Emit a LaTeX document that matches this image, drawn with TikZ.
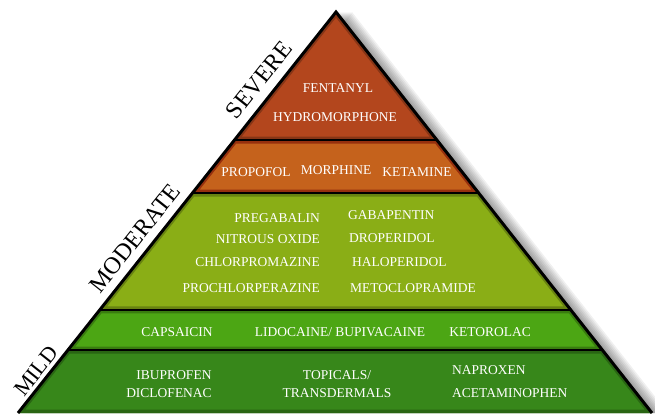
\documentclass[tikz,border=0pt]{standalone}
\usepackage{fontspec}
\setmainfont{Liberation Serif}
\usetikzlibrary{calc}
\definecolor{severecol}{HTML}{B3461D}
\definecolor{opioidcol}{HTML}{C5621C}
\definecolor{moderatecol}{HTML}{8AAE16}
\definecolor{localcol}{HTML}{4CA614}
\definecolor{mildcol}{HTML}{37871A}

\begin{document}
\begin{tikzpicture}[x=1pt,y=-1pt,
    drug/.style={text=white,inner sep=0pt,font=\fontsize{13.5}{14}\selectfont},
    level/.style={black,inner sep=0pt,rotate=51.6,font=\fontsize{24}{24}\selectfont}]
    \useasboundingbox (0,0) rectangle (655,413);
    \coordinate (top) at (336,12);
    \coordinate (bl) at (18,413);
    \coordinate (br) at (652,413);
    % layer corners along the two sides
    \coordinate (l1) at ($(top)!0.3192!(bl)$);
    \coordinate (r1) at ($(top)!0.3192!(br)$);
    \coordinate (l2) at ($(top)!0.4514!(bl)$);
    \coordinate (r2) at ($(top)!0.4514!(br)$);
    \coordinate (l3) at ($(top)!0.7431!(bl)$);
    \coordinate (r3) at ($(top)!0.7431!(br)$);
    \coordinate (l4) at ($(top)!0.8429!(bl)$);
    \coordinate (r4) at ($(top)!0.8429!(br)$);
    % soft shadow on the right
    \foreach \s in {2,4,...,16}
        \fill[black,opacity=0.06] ([xshift=\s]top) -- ([xshift=\s]br) -- ([xshift=\s]bl) -- cycle;
    % layers
    \begin{scope}
        \clip (top) -- (r1) -- (l1) -- cycle;
        \fill[severecol] (top) -- (r1) -- (l1) -- cycle;
        \draw[severecol!75!black,line width=7pt] (top) -- (r1) -- (l1) -- cycle;
    \end{scope}
    \begin{scope}
        \clip (l1) -- (r1) -- (r2) -- (l2) -- cycle;
        \fill[opioidcol] (l1) -- (r1) -- (r2) -- (l2) -- cycle;
        \draw[opioidcol!70!red!70!black,line width=7pt] (l1) -- (r1) -- (r2) -- (l2) -- cycle;
    \end{scope}
    \begin{scope}
        \clip (l2) -- (r2) -- (r3) -- (l3) -- cycle;
        \fill[moderatecol] (l2) -- (r2) -- (r3) -- (l3) -- cycle;
        \draw[moderatecol!75!black,line width=7pt] (l2) -- (r2) -- (r3) -- (l3) -- cycle;
    \end{scope}
    \begin{scope}
        \clip (l3) -- (r3) -- (r4) -- (l4) -- cycle;
        \fill[localcol] (l3) -- (r3) -- (r4) -- (l4) -- cycle;
        \draw[localcol!75!black,line width=7pt] (l3) -- (r3) -- (r4) -- (l4) -- cycle;
    \end{scope}
    \begin{scope}
        \clip (l4) -- (r4) -- (br) -- (bl) -- cycle;
        \fill[mildcol] (l4) -- (r4) -- (br) -- (bl) -- cycle;
        \draw[mildcol!75!black,line width=7pt] (l4) -- (r4) -- (br) -- (bl) -- cycle;
    \end{scope}
    % outline and dividers
    \draw[line width=3pt] (bl) -- (top) -- (br);
    \draw[line width=2.5pt] (l1) -- (r1);
    \draw[line width=2.5pt] (l2) -- (r2);
    \draw[line width=2.5pt] (l3) -- (r3);
    \draw[line width=2.5pt] (l4) -- (r4);
    % levels
    \node[level] (severe) at (259,80) {SEVERE};
    \node[level] (moderate) at (135,238) {MODERATE};
    \node[level,font=\fontsize{22}{22}\selectfont] (mild) at (36,371) {MILD};
    % drugs
    \node[drug] (fentanyl) at (338,88) {FENTANYL};
    \node[drug] (hydromorphone) at (335,117) {HYDROMORPHONE};
    \node[drug] (propofol) at (256,172) {PROPOFOL};
    \node[drug] (morphine) at (336,170) {MORPHINE};
    \node[drug] (ketamine) at (417,172) {KETAMINE};
    \node[drug,anchor=east] (pregabalin) at (320,218) {PREGABALIN};
    \node[drug,anchor=east] (nitrous) at (320,239) {NITROUS OXIDE};
    \node[drug,anchor=east] (chlorpromazine) at (320,262) {CHLORPROMAZINE};
    \node[drug,anchor=east] (prochlorperazine) at (320,288) {PROCHLORPERAZINE};
    \node[drug,anchor=west] (gabapentin) at (348,215) {GABAPENTIN};
    \node[drug,anchor=west] (droperidol) at (349,238) {DROPERIDOL};
    \node[drug,anchor=west] (haloperidol) at (352,262) {HALOPERIDOL};
    \node[drug,anchor=west] (metoclopramide) at (350,288) {METOCLOPRAMIDE};
    \node[drug] (capsaicin) at (177,332) {CAPSAICIN};
    \node[drug] (lidocaine) at (340,332) {LIDOCAINE/ BUPIVACAINE};
    \node[drug] (ketorolac) at (490,332) {KETOROLAC};
    \node[drug] (ibuprofen) at (174,375) {IBUPROFEN};
    \node[drug] (diclofenac) at (169,393) {DICLOFENAC};
    \node[drug] (topicals) at (337,375) {TOPICALS/};
    \node[drug] (transdermals) at (337,393) {TRANSDERMALS};
    \node[drug,anchor=west] (naproxen) at (452,370) {NAPROXEN};
    \node[drug,anchor=west] (acetaminophen) at (452,393) {ACETAMINOPHEN};
\end{tikzpicture}
\end{document}
